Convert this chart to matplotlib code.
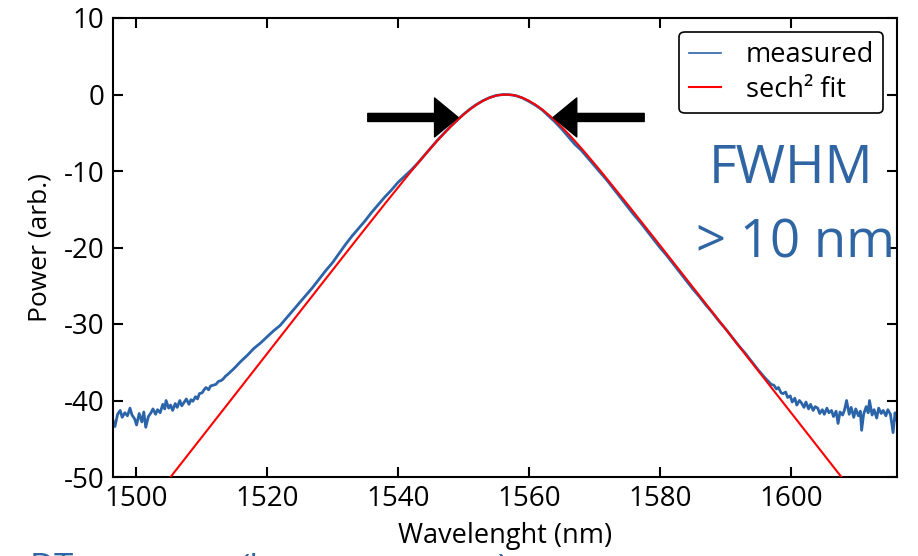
import matplotlib
matplotlib.use("Agg")
import matplotlib.pyplot as plt

plt.rcParams['font.family'] = ['Open Sans', 'DejaVu Sans']
plt.rcParams['axes.unicode_minus'] = False

# ---- data ----
meas_wl = [1496.5, 1496.8, 1497.2, 1497.6, 1497.9, 1498.3, 1498.7, 1499.1, 1499.4, 1499.8,
           1500.1, 1500.5, 1500.9, 1501.2, 1501.5, 1501.9, 1502.3, 1502.6, 1503.0, 1503.3,
           1503.7, 1504.1, 1504.4, 1504.6, 1505.0, 1505.3, 1505.6, 1506.0, 1506.3, 1506.7,
           1507.0, 1507.4, 1507.7, 1508.1, 1508.4, 1508.7, 1509.1, 1509.4, 1509.7, 1510.1,
           1510.4, 1510.7, 1511.1, 1511.4, 1511.8, 1512.2, 1512.6, 1513.0, 1513.3, 1513.7,
           1514.0, 1515, 1516, 1517, 1518, 1519, 1520, 1521, 1522, 1523, 1524, 1525, 1526,
           1527, 1528, 1529, 1530, 1531, 1532, 1533, 1534, 1535, 1536, 1537, 1538, 1539,
           1540, 1541, 1542, 1543, 1544, 1545, 1546, 1547, 1548, 1549, 1550, 1551, 1552,
           1553, 1554, 1555, 1556, 1557, 1558, 1559, 1560, 1561, 1562, 1563, 1564, 1565,
           1566, 1567, 1568, 1569, 1570, 1571, 1572, 1573, 1574, 1575, 1576, 1577, 1578,
           1579, 1580, 1581, 1582, 1583, 1584, 1585, 1586, 1587, 1588, 1589, 1590, 1591,
           1592, 1593, 1594, 1595, 1596,
           1597.0, 1597.4, 1597.8, 1598.1, 1598.5, 1598.8, 1599.2, 1599.5, 1599.9, 1600.2,
           1600.6, 1600.9, 1601.3, 1601.6, 1602.0, 1602.3, 1602.7, 1603.0, 1603.4, 1603.7,
           1604.1, 1604.4, 1604.8, 1605.1, 1605.5, 1605.8, 1606.2, 1606.5, 1606.9, 1607.2,
           1607.5, 1607.9, 1608.2, 1608.5, 1608.9, 1609.2, 1609.6, 1609.9, 1610.3, 1610.6,
           1610.8, 1611.1, 1611.5, 1611.8, 1612.0, 1612.4, 1612.7, 1613.1, 1613.4, 1613.8,
           1614.1, 1614.5, 1614.8, 1615.2, 1615.6, 1615.9, 1616.2]
meas_db = [-42.6, -43.4, -41.8, -41.3, -42.2, -41.6, -42.0, -41.0, -41.9, -42.4,
           -43.2, -41.7, -42.8, -41.5, -43.5, -42.1, -41.6, -41.1, -41.8, -41.2,
           -41.6, -40.5, -41.1, -40.0, -41.0, -40.6, -41.3, -40.4, -40.9, -40.0,
           -40.7, -40.2, -39.8, -40.5, -39.9, -40.1, -39.5, -39.8, -39.1, -39.0,
           -38.6, -38.3, -38.6, -38.1, -38.0, -37.9, -37.5, -37.4, -37.2, -36.8,
           -36.6, -35.8, -34.9, -34.1, -33.2, -32.5, -31.7, -30.9, -30.2, -29.2, -28.2, -27.2, -26.2,
           -25.2, -24.1, -23.0, -22.0, -20.8, -19.6, -18.5, -17.5, -16.5, -15.4, -14.4, -13.4, -12.5,
           -11.5, -10.7, -9.9, -9.0, -8.0, -7.0, -6.0, -5.1, -4.2, -3.4, -2.6, -1.9, -1.3,
           -0.8, -0.4, -0.12, -0.01, -0.02, -0.15, -0.45, -0.9, -1.4, -2.0, -2.8, -3.6, -4.5,
           -5.5, -6.5, -7.3, -8.3, -9.3, -10.3, -11.3, -12.4, -13.5, -14.6, -15.7, -16.7, -17.8,
           -18.9, -20.0, -21.0, -22.1, -23.2, -24.3, -25.4, -26.4, -27.5, -28.5, -29.6, -30.6, -31.7,
           -32.8, -33.8, -34.9, -36.0, -37.0,
           -37.9, -38.0, -38.5, -38.3, -39.0, -39.1, -38.9, -39.6, -39.4, -40.2,
           -39.7, -40.6, -40.0, -40.3, -40.9, -40.2, -41.1, -40.5, -41.3, -40.8,
           -41.0, -41.7, -41.2, -41.8, -41.0, -41.6, -41.3, -42.1, -41.4, -43.0,
           -41.5, -41.9, -41.2, -40.0, -41.8, -40.9, -42.2, -41.1, -42.0, -41.4,
           -43.9, -41.8, -40.8, -41.6, -40.0, -41.9, -41.2, -42.3, -41.0, -41.7,
           -41.3, -42.0, -41.2, -41.8, -44.2, -41.6, -42.6]

fit_wl = [1504.0, 1510.0, 1516.0, 1522.0, 1528.0, 1534.0, 1538.0, 1542.0, 1544.0, 1545.0,
          1546.0, 1547.0, 1548.0, 1549.0, 1550.0, 1551.0, 1552.0, 1553.0, 1554.0, 1555.0,
          1555.5, 1556.5, 1557.5, 1558.0, 1559.0, 1560.0, 1561.0, 1562.0, 1563.0, 1564.0,
          1565.0, 1566.0, 1567.0, 1568.0, 1569.0, 1571.0, 1575.0, 1579.0, 1585.0, 1591.0,
          1597.0, 1603.0, 1609.0]
fit_db = [-51.41, -44.85, -38.29, -31.72, -25.16, -18.62, -14.30, -10.06, -8.02, -7.02,
          -6.06, -5.13, -4.25, -3.41, -2.64, -1.94, -1.33, -0.82, -0.42, -0.154,
          -0.07, 0.0, -0.07, -0.154, -0.42, -0.82, -1.33, -1.94, -2.64, -3.41,
          -4.25, -5.13, -6.06, -7.02, -8.02, -10.06, -14.30, -18.62, -25.16, -31.72,
          -38.29, -44.85, -51.41]

x_ticks = [1500, 1520, 1540, 1560, 1580, 1600]
y_ticks = [-50, -40, -30, -20, -10, 0, 10]

blue = '#2b64a8'
txt_blue = '#2e65a2'

fig = plt.figure(figsize=(9.18, 5.56), dpi=100)
ax = fig.add_axes([113/918, 79/556, 784/918, 459/556])

ax.plot(meas_wl, meas_db, color=blue, lw=2.0, label='measured', zorder=2)
ax.plot(fit_wl, fit_db, color='#ff0000', lw=1.5, label='sech² fit', zorder=3)

ax.set_xlim(1496.5, 1616.2)
ax.set_ylim(-50, 10)
ax.set_xticks(x_ticks)
ax.set_yticks(y_ticks)
ax.tick_params(direction='in', length=7, width=1.5, top=True, right=True,
               labelsize=20, pad=6, colors='black')
for s in ax.spines.values():
    s.set_linewidth(1.5)
    s.set_color('black')

ax.set_xlabel('Wavelenght (nm)', fontsize=19.5, labelpad=6)
ax.set_ylabel('Power (arb.)', fontsize=19, labelpad=8)

# arrows
ax.annotate('', xy=(1549.2, -3.0), xytext=(1535.4, -3.0),
            arrowprops=dict(arrowstyle='simple,head_length=0.85,head_width=1.4,tail_width=0.29',
                            mutation_scale=20, color='black', shrinkA=0, shrinkB=0), zorder=5)
ax.annotate('', xy=(1563.7, -3.0), xytext=(1577.6, -3.0),
            arrowprops=dict(arrowstyle='simple,head_length=0.85,head_width=1.4,tail_width=0.29',
                            mutation_scale=20, color='black', shrinkA=0, shrinkB=0), zorder=5)

leg = ax.legend(loc='upper right', fontsize=19.5, handlelength=1.2, handletextpad=0.9,
                borderaxespad=0.5, fancybox=True, framealpha=1, edgecolor='black',
                borderpad=0.35, labelspacing=0.25)
leg.get_frame().set_linewidth(1.2)
leg.get_lines()[0].set_linewidth(1.2)

# annotation text
fig.text(791/918, (556-183)/556, 'FWHM', color=txt_blue, fontsize=38.5, ha='center', va='baseline')
fig.text(795/918, (556-258)/556, '> 10 nm', color=txt_blue, fontsize=38, ha='center', va='baseline')

# text clipped by lower edge of the image (as in the reference)
fig.text(30/918, (556-578)/556, 'DT', color=txt_blue, fontsize=25, ha='left', va='baseline')
fig.text(240/918, (556-578)/556, '(l', color=txt_blue, fontsize=25, ha='left', va='baseline')
fig.text(498/918, (556-578)/556, ')', color=txt_blue, fontsize=25, ha='left', va='baseline')

fig.savefig('out.png', dpi=100)
